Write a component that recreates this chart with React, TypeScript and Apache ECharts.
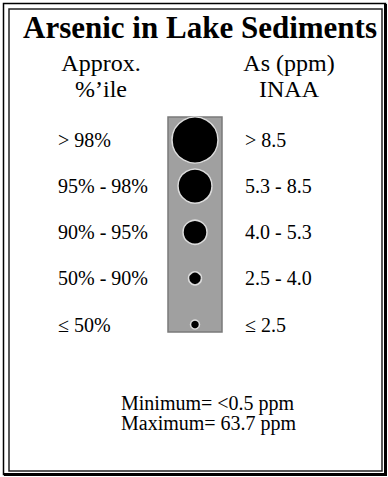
import React, { useEffect, useRef } from "react";
import * as echarts from "echarts";

const percentileLabels = ["> 98%", "95% - 98%", "90% - 95%", "50% - 90%", "≤ 50%"];
const ppmLabels = ["> 8.5", "5.3 - 8.5", "4.0 - 5.3", "2.5 - 4.0", "≤ 2.5"];
const symbolSizes = [46, 34, 24, 13, 9];
const titleText = "Arsenic in Lake Sediments";
const leftHeader = ["Approx.", "%’ile"];
const rightHeader = ["As (ppm)", "INAA"];
const footer = ["Minimum= <0.5 ppm", "Maximum= 63.7 ppm"];

const FONT = "Times New Roman";

export default function App() {
  const ref = useRef<HTMLDivElement>(null);
  useEffect(() => {
    if (!ref.current) return;
    const chart = echarts.init(ref.current, undefined, { renderer: "svg" });
    const axisCommon = {
      type: "category",
      inverse: true,
      boundaryGap: false,
      axisLine: { show: false },
      axisTick: { show: false },
      splitLine: { show: false },
    };
    const block = (lines: string[], left: number, top: number, size: number, lineHeight: number, align: string, bold = false) => ({
      text: lines.join("\n"),
      left,
      top,
      textAlign: align,
      padding: 0,
      itemGap: 0,
      textStyle: {
        fontFamily: FONT,
        fontSize: size,
        fontWeight: bold ? "bold" : "normal",
        color: "#000",
        lineHeight,
        align,
      },
    });
    chart.setOption({
      animation: false,
      backgroundColor: "#fff",
      textStyle: { fontFamily: FONT },
      title: [
        block([titleText], 200, 12, 31, 31, "center", true),
        block(leftHeader, 101, 50, 24, 26, "center"),
        block(rightHeader, 289, 50, 24, 26, "center"),
        block(footer, 121, 393, 20, 20, "left"),
      ],
      grid: { left: 168, right: 166, top: 140, bottom: 152.5 },
      xAxis: { type: "value", min: 0, max: 2, show: false },
      yAxis: [
        {
          ...axisCommon,
          data: percentileLabels,
          position: "left",
          axisLabel: { align: "left", margin: 110, color: "#000", fontFamily: FONT, fontSize: 20 },
        },
        {
          ...axisCommon,
          data: ppmLabels,
          position: "right",
          axisLabel: { align: "left", margin: 23, color: "#000", fontFamily: FONT, fontSize: 20 },
        },
      ],
      graphic: [
        { type: "rect", shape: { x: 3.5, y: 3.5, width: 382, height: 471 }, style: { fill: "none", stroke: "#000", lineWidth: 1.5 } },
        { type: "line", shape: { x1: 385.5, y1: 4, x2: 385.5, y2: 475 }, style: { stroke: "#000", lineWidth: 3 } },
        { type: "line", shape: { x1: 4, y1: 474.5, x2: 387, y2: 474.5 }, style: { stroke: "#000", lineWidth: 3 } },
        { type: "rect", shape: { x: 9, y: 9, width: 373, height: 462 }, style: { fill: "none", stroke: "#222", lineWidth: 1.5 } },
        { type: "rect", shape: { x: 168, y: 117, width: 54, height: 215 }, style: { fill: "#a0a0a0", stroke: "#7a7a7a", lineWidth: 1.5 }, z: -1 },
      ],
      series: [
        {
          type: "scatter",
          yAxisIndex: 0,
          symbol: "circle",
          data: symbolSizes.map((s, i) => ({ value: [1, percentileLabels[i]], symbolSize: s })),
          itemStyle: { color: "#000", borderColor: "#dcdcdc", borderWidth: 1.5, opacity: 1 },
          z: 5,
        },
      ],
    });
    return () => chart.dispose();
  }, []);
  return <div ref={ref} style={{ width: 388, height: 477, position: "absolute", left: 0, top: 0 }} />;
}
